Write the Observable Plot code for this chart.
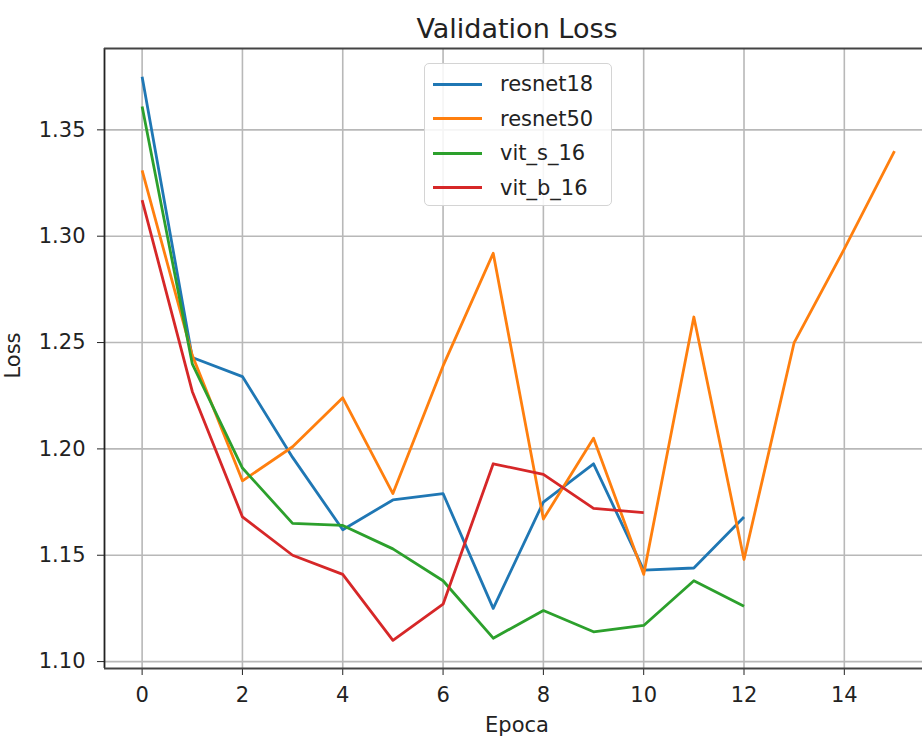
<!DOCTYPE html>
<html>
<head>
<meta charset="utf-8">
<script src="https://cdn.jsdelivr.net/npm/d3@7"></script>
<script src="https://cdn.jsdelivr.net/npm/@observablehq/plot@0.6"></script>
<style>
  html, body { margin: 0; padding: 0; background: #fff; overflow: hidden; }
  #wrap { position: relative; width: 922px; height: 740px; font-family: "DejaVu Sans", sans-serif; color: #222; }
  #wrap svg { position: absolute; left: 0; top: 0; }
  .lbl { position: absolute; line-height: 1; white-space: nowrap; }
  #title { left: 0; top: 15px; width: 1034px; text-align: center; font-size: 27px; }
  #xlabel { left: 0; top: 715px; width: 1034px; text-align: center; font-size: 21px; }
  #ylabel { left: -10px; top: 345px; width: 46px; text-align: center; font-size: 21px; transform: rotate(-90deg); }
  #legend { position: absolute; left: 424px; top: 63px; width: 188px; height: 143px; box-sizing: border-box;
            border: 1px solid #d4d4d4; border-radius: 5px; background: rgba(255,255,255,0.85); }
  .row { position: absolute; left: 0; height: 24px; display: flex; align-items: center; font-size: 21px; }
  .sw { width: 49px; height: 3px; margin-left: 8px; margin-right: 18px; }
</style>
</head>
<body>
<div id="wrap">
  <div id="title" class="lbl">Validation Loss</div>
  <div id="xlabel" class="lbl">Epoca</div>
  <div id="ylabel" class="lbl">Loss</div>
</div>
<script>
const models = ["resnet18", "resnet50", "vit_s_16", "vit_b_16"];
const colors = ["#1f77b4", "#ff7f0e", "#2ca02c", "#d62728"];
const epochs = [0, 1, 2, 3, 4, 5, 6, 7, 8, 9, 10, 11, 12, 13, 14, 15];
const resnet18 = [1.375, 1.243, 1.234, 1.196, 1.162, 1.176, 1.179, 1.125, 1.175, 1.193, 1.143, 1.144, 1.168];
const resnet50 = [1.331, 1.244, 1.185, 1.201, 1.224, 1.179, 1.239, 1.292, 1.167, 1.205, 1.141, 1.262, 1.148, 1.250, 1.294, 1.340];
const vit_s_16 = [1.361, 1.240, 1.191, 1.165, 1.164, 1.153, 1.138, 1.111, 1.124, 1.114, 1.117, 1.138, 1.126];
const vit_b_16 = [1.317, 1.227, 1.168, 1.150, 1.141, 1.110, 1.127, 1.193, 1.188, 1.172, 1.170];
const xTicks = [0, 2, 4, 6, 8, 10, 12, 14];
const yTicks = [1.10, 1.15, 1.20, 1.25, 1.30, 1.35];

const series = [resnet18, resnet50, vit_s_16, vit_b_16];
const data = models.flatMap((m, k) => series[k].map((v, i) => ({model: m, epoch: epochs[i], loss: v})));

const lo = d3.min(data, d => d.loss), hi = d3.max(data, d => d.loss);
const padY = (hi - lo) * 0.05;
const padX = (d3.max(epochs) - d3.min(epochs)) * 0.05;
const xDom = [d3.min(epochs) - padX, d3.max(epochs) + padX];
const yDom = [lo - padY, hi + padY];

const chart = Plot.plot({
  width: 922,
  height: 740,
  marginLeft: 104,
  marginTop: 48,
  marginBottom: 72,
  marginRight: 0,
  style: {fontFamily: "'DejaVu Sans', sans-serif", fontSize: "21px", color: "#222", background: "#fff", overflow: "hidden"},
  x: {domain: xDom, range: [104, 931.6], ticks: xTicks, tickFormat: d3.format("d"), tickSize: 7, tickPadding: 12, label: null},
  y: {domain: yDom, ticks: yTicks, tickFormat: d3.format(".2f"), tickSize: 7, tickPadding: 12, label: null},
  color: {domain: models, range: colors},
  marks: [
    Plot.ruleX(xTicks, {stroke: "#b8b8b8", strokeWidth: 1.6}),
    Plot.ruleY(yTicks, {stroke: "#b8b8b8", strokeWidth: 1.6}),
    Plot.line(data, {x: "epoch", y: "loss", z: "model", stroke: "model", strokeWidth: 2.8, strokeLinejoin: "round", strokeLinecap: "butt"}),
    Plot.ruleX([xDom[0]], {stroke: "#222", strokeWidth: 1.8}),
    Plot.ruleY(yDom, {stroke: "#444", strokeWidth: 2.2})
  ]
});

const wrap = document.getElementById("wrap");
wrap.insertBefore(chart, wrap.firstChild);

const legend = document.createElement("div");
legend.id = "legend";
models.forEach((m, k) => {
  const row = document.createElement("div");
  row.className = "row";
  row.style.top = (8 + k * 34.5) + "px";
  const sw = document.createElement("div");
  sw.className = "sw";
  sw.style.background = colors[k];
  const tx = document.createElement("span");
  tx.textContent = m;
  row.appendChild(sw);
  row.appendChild(tx);
  legend.appendChild(row);
});
wrap.appendChild(legend);
</script>
</body>
</html>
